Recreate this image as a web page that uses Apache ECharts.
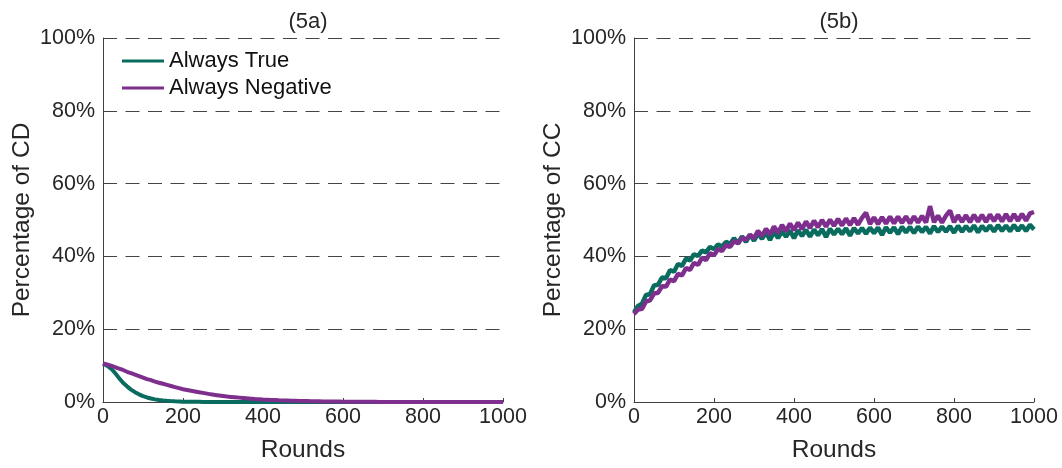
<!DOCTYPE html>
<html>
<head>
<meta charset="utf-8">
<script src="https://cdn.jsdelivr.net/npm/echarts@6/dist/echarts.min.js"></script>
<style>
  html, body { margin: 0; padding: 0; background: #fff; }
  #chart { width: 1062px; height: 468px; }
</style>
</head>
<body>
<div id="chart"></div>
<script>
// rounds sampled every 10 steps
const rounds = [];
for (let r = 0; r <= 1000; r += 10) rounds.push(r);

const panelTitles = ['(5a)', '(5b)'];
const yNames = ['Percentage of CD', 'Percentage of CC'];
const seriesNames = ['Always True', 'Always Negative'];

// (5a) percentage of CD
const cdTrue = [
    10.5, 10.0, 9.2, 8.0, 6.6, 5.3, 4.3, 3.4, 2.7, 2.1,
    1.6, 1.25, 0.95, 0.72, 0.55, 0.42, 0.32, 0.24, 0.18, 0.14,
    0.1, 0.08, 0.06, 0.05, 0.04, 0.03, 0.02, 0.02, 0.02, 0.01,
    0.01, 0.01, 0.01, 0.01, 0, 0, 0, 0, 0, 0,
    0, 0, 0, 0, 0, 0, 0, 0, 0, 0,
    0, 0, 0, 0, 0, 0, 0, 0, 0, 0,
    0, 0, 0, 0, 0, 0, 0, 0, 0, 0,
    0, 0, 0, 0, 0, 0, 0, 0, 0, 0,
    0, 0, 0, 0, 0, 0, 0, 0, 0, 0,
    0, 0, 0, 0, 0, 0, 0, 0, 0, 0,
    0
];
const cdNeg = [
    10.6, 10.3, 10.0, 9.6, 9.2, 8.8, 8.3, 7.9, 7.5, 7.1,
    6.7, 6.3, 6.0, 5.6, 5.3, 5.0, 4.7, 4.4, 4.1, 3.8,
    3.5, 3.3, 3.1, 2.9, 2.7, 2.5, 2.3, 2.1, 1.95, 1.8,
    1.65, 1.5, 1.4, 1.3, 1.2, 1.1, 1.0, 0.92, 0.84, 0.77,
    0.7, 0.64, 0.58, 0.53, 0.48, 0.44, 0.4, 0.36, 0.33, 0.3,
    0.27, 0.25, 0.22, 0.2, 0.18, 0.16, 0.15, 0.13, 0.12, 0.11,
    0.1, 0.09, 0.08, 0.07, 0.06, 0.05, 0.05, 0.04, 0.04, 0.03,
    0.03, 0.02, 0.02, 0.02, 0.02, 0.01, 0.01, 0.01, 0.01, 0.01,
    0.01, 0.01, 0, 0, 0, 0, 0, 0, 0, 0,
    0, 0, 0, 0, 0, 0, 0, 0, 0, 0,
    0
];

// (5b) percentage of CC
const ccTrue = [
    24.6, 26.4, 27.0, 29.4, 29.6, 32.0, 32.2, 34.2, 34.0, 36.2,
    35.8, 37.9, 37.4, 39.4, 38.9, 40.6, 40.1, 41.6, 41.1, 42.6,
    42.0, 43.3, 42.7, 44.0, 43.4, 45.0, 43.6, 45.5, 44.0, 46.0,
    44.3, 46.3, 44.8, 46.6, 44.5, 46.8, 45.0, 46.9, 45.4, 47.1,
    45.0, 47.2, 45.6, 47.3, 45.4, 47.4, 45.8, 47.5, 45.3, 47.6,
    46.0, 47.6, 46.1, 47.7, 45.7, 47.8, 46.3, 47.8, 46.2, 47.9,
    46.4, 47.9, 45.9, 48.0, 46.5, 48.0, 46.1, 48.1, 46.6, 48.1,
    46.4, 48.2, 46.7, 48.1, 46.3, 48.3, 46.7, 48.2, 46.8, 48.3,
    46.5, 48.4, 46.8, 48.3, 46.9, 48.5, 46.6, 48.4, 47.0, 48.5,
    46.8, 48.6, 47.0, 48.5, 46.9, 48.6, 47.1, 48.5, 47.0, 48.7,
    47.4
];
const ccNeg = [
    24.2, 25.4, 25.6, 27.6, 27.9, 29.8, 30.0, 31.8, 31.7, 33.6,
    33.2, 35.2, 34.8, 36.8, 36.3, 38.2, 37.7, 39.6, 39.0, 40.9,
    40.3, 42.0, 41.5, 43.1, 42.6, 44.2, 43.6, 45.1, 44.6, 45.9,
    45.0, 47.0, 45.6, 47.6, 46.0, 48.2, 46.5, 48.6, 46.9, 49.0,
    47.2, 49.3, 47.5, 49.6, 47.8, 49.8, 48.0, 50.0, 48.2, 50.1,
    48.4, 50.3, 48.5, 50.4, 48.6, 50.5, 48.7, 50.6, 52.0, 48.9,
    50.7, 48.9, 50.8, 49.0, 50.9, 49.1, 50.9, 49.2, 51.0, 49.1,
    51.0, 49.3, 51.1, 49.3, 53.8, 49.4, 51.2, 49.3, 51.2, 52.6,
    49.4, 51.3, 49.5, 51.3, 49.4, 51.4, 49.6, 51.4, 49.5, 51.5,
    49.7, 51.5, 49.6, 51.6, 49.7, 51.6, 49.8, 51.7, 49.8, 51.8,
    52.2
];

const colors = ['#0a6b5f', '#7e2f8e'];
const lineWidths = [4, 4, 4.5, 4.5];
const font = 'Liberation Sans, Arial, sans-serif';
const textColor = '#262626';

function pairs(vals) {
    return rounds.map((r, i) => [r, vals[i]]);
}

const gridLefts = [103, 634];

let chart = echarts.init(document.getElementById('chart'));

let option = {
    animation: false,
    textStyle: { fontFamily: font },
    title: panelTitles.map((t, i) => ({
        text: t,
        left: gridLefts[i] + 200,
        textAlign: 'center',
        top: 6,
        textStyle: { fontSize: 22, fontWeight: 'normal', color: textColor, fontFamily: font }
    })),
    legend: {
        data: seriesNames,
        orient: 'vertical',
        left: 117,
        top: 45,
        itemWidth: 42,
        itemHeight: 3,
        itemGap: 5,
        icon: 'rect',
        textStyle: { fontSize: 22, color: '#111', fontFamily: font }
    },
    grid: gridLefts.map(l => ({ left: l, width: 400, top: 38, height: 365 })),
    xAxis: gridLefts.map((l, i) => ({
        type: 'value',
        gridIndex: i,
        min: 0,
        max: 1000,
        interval: 200,
        name: 'Rounds',
        nameLocation: 'middle',
        nameGap: 36,
        nameTextStyle: { fontSize: 24.5, color: textColor, fontFamily: font },
        axisLine: { lineStyle: { color: '#404040', width: 1 } },
        axisTick: { inside: true, length: 4, lineStyle: { color: '#404040' } },
        axisLabel: { fontSize: 21.5, color: textColor, margin: 4, formatter: v => String(v), fontFamily: font },
        splitLine: { show: false }
    })),
    yAxis: gridLefts.map((l, i) => ({
        type: 'value',
        gridIndex: i,
        min: 0,
        max: 100,
        interval: 20,
        name: yNames[i],
        nameLocation: 'middle',
        nameGap: 68,
        nameTextStyle: { fontSize: 24.5, color: textColor, fontFamily: font },
        axisLine: { show: true, lineStyle: { color: '#404040', width: 1 } },
        axisTick: { show: true, inside: true, length: 4, lineStyle: { color: '#404040' } },
        axisLabel: { fontSize: 21.5, color: textColor, margin: 8, formatter: '{value}%', fontFamily: font },
        splitLine: {
            show: true,
            lineStyle: { color: '#444', type: [14, 8.5], width: 1 }
        }
    })),
    series: [
        { name: seriesNames[0], type: 'line', xAxisIndex: 0, yAxisIndex: 0, data: pairs(cdTrue) },
        { name: seriesNames[1], type: 'line', xAxisIndex: 0, yAxisIndex: 0, data: pairs(cdNeg) },
        { name: seriesNames[0], type: 'line', xAxisIndex: 1, yAxisIndex: 1, data: pairs(ccTrue) },
        { name: seriesNames[1], type: 'line', xAxisIndex: 1, yAxisIndex: 1, data: pairs(ccNeg) }
    ].map((s, i) => Object.assign(s, {
        showSymbol: false,
        symbol: 'none',
        color: colors[i % 2],
        lineStyle: { width: lineWidths[i], color: colors[i % 2] },
        z: 3 + (i % 2)
    }))
};

chart.setOption(option);
</script>
</body>
</html>
